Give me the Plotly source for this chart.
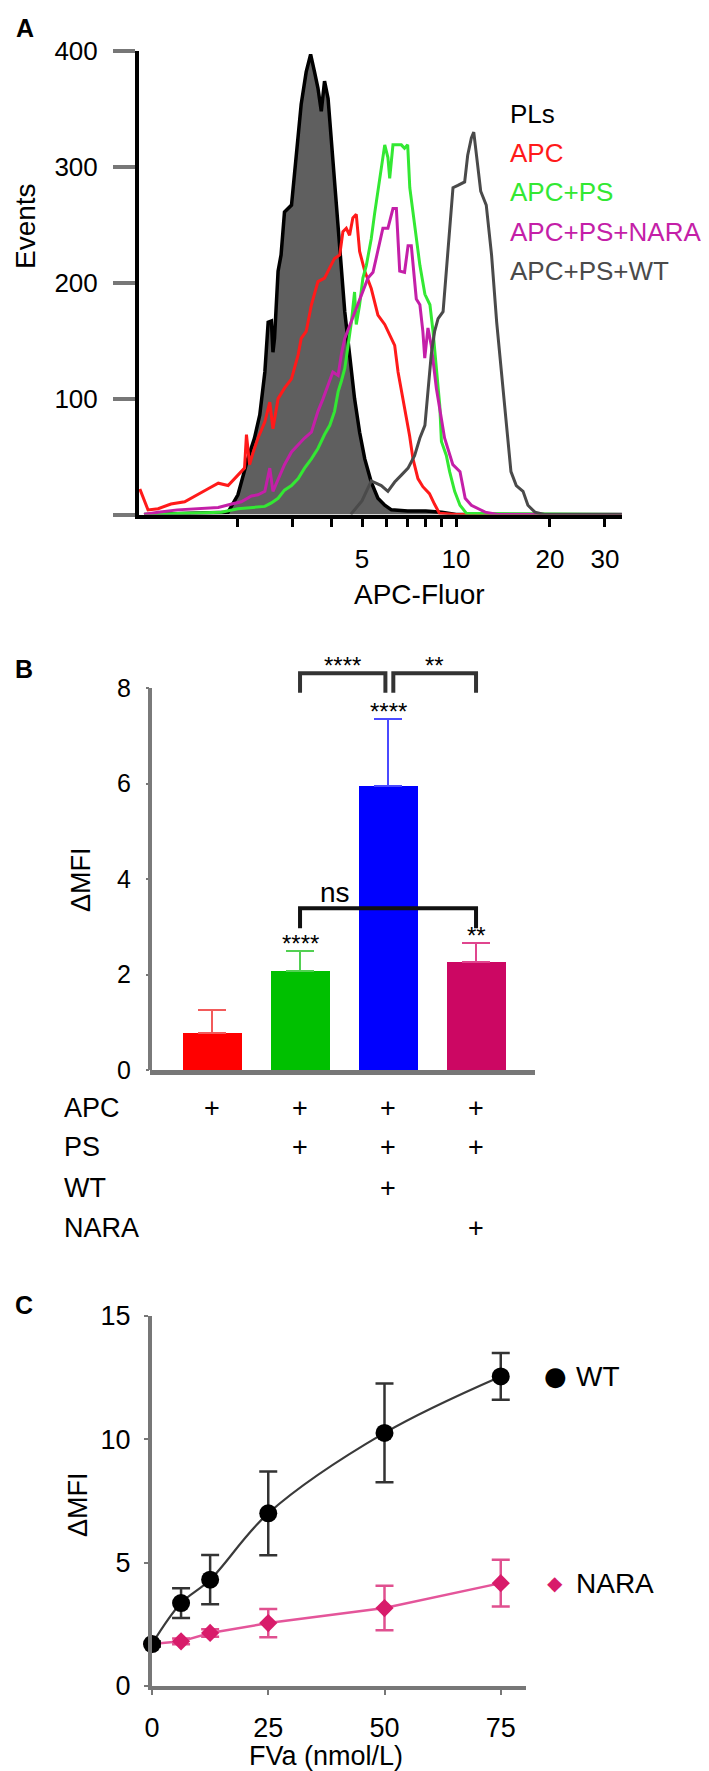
import plotly.graph_objects as go

W, H = 709, 1771
FONT = "Liberation Sans, Arial, sans-serif"

# ---------------- Panel A: flow histograms ----------------
pls_x = [1.0, 1.86, 2.0, 2.15, 2.26, 2.35, 2.44, 2.50, 2.56, 2.59, 2.62, 2.69, 2.75, 2.82, 2.97,
         3.04, 3.12, 3.19, 3.31, 3.42, 3.52, 3.61, 3.70, 3.79, 3.89, 3.98, 4.08, 4.19, 4.29, 4.40,
         4.56, 4.73, 4.91, 5.10, 5.35, 5.62, 5.91, 6.21, 7.0, 8.0, 9.0, 10.0, 34.0]
pls_y = [0, 2, 17, 48, 66, 86, 123, 166, 167, 140, 152, 210, 224, 261, 267,
         296, 325, 354, 382, 397, 382, 368, 348, 374, 359, 325, 290, 253, 210, 175,
         138, 100, 71, 48, 28, 14, 8, 4, 3, 3, 2, 0, 0]

apc_x = [0.97, 1.03, 1.11, 1.22, 1.35, 1.49, 1.60, 1.73, 1.86, 2.00, 2.10, 2.13, 2.18, 2.24, 2.32,
         2.44, 2.53, 2.59, 2.69, 2.82, 2.97, 3.12, 3.19, 3.31, 3.44, 3.61, 3.79, 3.94, 4.08, 4.24,
         4.34, 4.45, 4.56, 4.67, 4.79, 4.91, 5.10, 5.35, 5.62, 5.91, 6.13, 6.36, 6.52, 6.84, 7.10,
         7.28, 7.55, 7.83, 8.22, 8.53, 8.85, 10.0, 34.0]
apc_y = [22, 4, 5, 9, 11, 17, 22, 27, 25, 34, 40, 69, 43, 54, 66,
         80, 97, 74, 100, 109, 117, 138, 152, 158, 181, 201, 204, 213, 221, 224,
         244, 247, 241, 256, 259, 227, 210, 195, 172, 164, 155, 146, 123, 94, 68,
         48, 31, 24, 18, 9, 1, 0, 0]

ps_x = [1.0, 1.77, 2.00, 2.26, 2.44, 2.56, 2.69, 2.82, 2.97, 3.12, 3.27, 3.44, 3.61, 3.79, 3.94,
        4.08, 4.19, 4.29, 4.40, 4.51, 4.62, 4.73, 4.79, 4.91, 5.03, 5.16, 5.35, 5.48, 5.62, 5.76,
        5.91, 6.05, 6.13, 6.28, 6.68, 6.84, 7.0, 7.11, 7.37, 7.66, 7.95, 8.25, 8.44, 8.65, 8.87,
        8.98, 9.31, 9.54, 9.90, 10.3, 10.8, 34.0]
ps_y = [0, 2, 5, 6, 7, 10, 14, 21, 25, 31, 40, 48, 57, 69, 77,
        89, 106, 115, 126, 146, 166, 192, 164, 181, 204, 215, 238, 259, 279, 302,
        319, 308, 290, 319, 319, 316, 319, 282, 250, 215, 190, 181, 158, 123, 94,
        63, 51, 37, 20, 8, 1, 0]

nara_x = [1.0, 1.11, 1.28, 1.49, 1.73, 1.91, 2.05, 2.21, 2.32, 2.44, 2.53, 2.59, 2.69, 2.82, 2.97,
          3.12, 3.27, 3.44, 3.61, 3.75, 3.89, 4.03, 4.19, 4.29, 4.40, 4.56, 4.73, 4.91, 5.10, 5.22,
          5.42, 5.62, 5.83, 6.05, 6.28, 6.44, 6.60, 6.84, 7.02, 7.19, 7.46, 7.66, 7.83, 7.94, 8.13,
          8.33, 8.65, 9.19, 9.77, 10.3, 10.7, 11.2, 12.4, 13.6, 34.0]
nara_y = [0, 2, 4, 5, 6, 9, 11, 16, 17, 20, 40, 20, 31, 43, 54,
          60, 66, 71, 89, 100, 111, 123, 120, 138, 152, 163, 175, 186, 198, 204,
          209, 227, 247, 247, 264, 264, 210, 209, 232, 232, 186, 181, 158, 135, 161,
          146, 109, 66, 43, 37, 14, 8, 2, 0, 0]

wt_x = [4.6, 5.0, 5.35, 5.76, 6.05, 6.36, 6.68, 7.02, 7.37, 7.66, 7.95, 8.13, 8.33, 8.54, 8.76,
        9.09, 9.31, 9.54, 9.78, 10.14, 10.66, 10.9, 11.2, 11.4, 11.75, 12.0, 12.5, 13.0, 13.5, 14.0,
        14.5, 15.0, 15.6, 16.4, 17.0, 17.9, 19.2, 34.0]
wt_y = [0, 12, 29, 25, 20, 28, 34, 40, 51, 66, 77, 109, 138, 158, 169,
        175, 209, 250, 282, 284, 287, 310, 325, 330, 301, 279, 267, 224, 166, 123,
        80, 37, 25, 20, 8, 2, 0, 0]

hist_names = ["PLs", "APC", "APC+PS", "APC+PS+NARA", "APC+PS+WT"]
hist_colors = ["#000000", "#ff1a1a", "#33e833", "#c41fa8", "#4a4a4a"]

# ---------------- Panel B: bar chart ----------------
b_vals = [0.77, 2.07, 5.95, 2.26]
b_errs = [0.49, 0.42, 1.40, 0.40]
b_colors = ["#ff0000", "#00c000", "#0000ff", "#cc0763"]
b_err_colors = ["#f25a5a", "#52d052", "#4a4aff", "#e0458e"]
b_stars = ["", "****", "****", "**"]
row_names = ["APC", "PS", "WT", "NARA"]
row_marks = [[1, 1, 1, 1], [0, 1, 1, 1], [0, 0, 1, 0], [0, 0, 0, 1]]

# ---------------- Panel C: dose response ----------------
fva = [0, 6.25, 12.5, 25, 50, 75]
wt_mfi = [1.7, 3.36, 4.31, 7.0, 10.26, 12.55]
wt_err = [0.1, 0.6, 1.0, 1.7, 2.0, 0.95]
nara_mfi = [1.7, 1.81, 2.15, 2.55, 3.16, 4.17]
nara_err = [0.1, 0.12, 0.15, 0.57, 0.9, 0.95]


def px(x):
    return x / W


def py(y):
    return 1 - y / H


def label(text, x, y, size=27, color="black", xanchor="center", angle=0, family=FONT):
    return dict(text=text, x=px(x), y=py(y), xref="paper", yref="paper", showarrow=False,
                xanchor=xanchor, yanchor="middle", textangle=angle,
                font=dict(size=size, color=color, family=family))


fig = go.Figure()

# panel A traces
hist_x = [pls_x, apc_x, ps_x, nara_x, wt_x]
hist_y = [pls_y, apc_y, ps_y, nara_y, wt_y]
for i, name in enumerate(hist_names):
    if i == 0:
        fig.add_trace(go.Scatter(x=hist_x[i], y=hist_y[i], mode="lines", name=name,
                                 line=dict(color="#000000", width=3.5), fill="tozeroy",
                                 fillcolor="#5f5f5f", xaxis="x", yaxis="y"))
    else:
        fig.add_trace(go.Scatter(x=hist_x[i], y=hist_y[i], mode="lines", name=name,
                                 line=dict(color=hist_colors[i], width=3),
                                 xaxis="x", yaxis="y"))

# panel B bars
for i in range(len(b_vals)):
    fig.add_trace(go.Bar(x=[i], y=[b_vals[i]], width=0.67, marker_color=b_colors[i],
                         marker_line_width=0,
                         error_y=dict(type="data", array=[b_errs[i]], arrayminus=[0],
                                      symmetric=False, color=b_err_colors[i],
                                      thickness=2.5, width=14),
                         xaxis="x2", yaxis="y2"))

# panel C lines
fig.add_trace(go.Scatter(x=fva, y=nara_mfi, mode="lines+markers", name="NARA",
                         line=dict(color="#e4559a", width=2.5),
                         marker=dict(symbol="diamond", size=14, color="#d81b6a"),
                         error_y=dict(type="data", array=nara_err, color="#e0508f",
                                      thickness=2.5, width=9),
                         cliponaxis=False, xaxis="x3", yaxis="y3"))
fig.add_trace(go.Scatter(x=fva, y=wt_mfi, mode="lines+markers", name="WT",
                         line=dict(color="#3a3a3a", width=2.2, shape="spline"),
                         marker=dict(symbol="circle", size=18, color="#000000"),
                         error_y=dict(type="data", array=wt_err, color="#333333",
                                      thickness=2.5, width=9),
                         cliponaxis=False, xaxis="x3", yaxis="y3"))

ann = []

# panel letters
for letter, (lx, ly) in zip(["A", "B", "C"], [(17, 20), (16, 661), (16, 1297)]):
    ann.append(label("<b>%s</b>" % letter, lx, ly, size=25))

# panel A legend
legend_rows = [106, 145, 184, 224, 263]
for name, col, ry in zip(hist_names, hist_colors, legend_rows):
    ann.append(label(name, 500, ry, size=26, color=col, xanchor="left"))

# axis titles
ann.append(label("Events", 17, 218, size=28, angle=-90))
ann.append(label("APC-Fluor", 411, 586, size=28))
ann.append(label("ΔMFI", 73, 872, angle=-90))
ann.append(label("ΔMFI", 70, 1497, angle=-90))
ann.append(label("FVa (nmol/L)", 318, 1748, size=27))

# panel B stars above error bars
for i, s in enumerate(b_stars):
    if s:
        ann.append(dict(text=s, x=i, y=b_vals[i] + b_errs[i], xref="x2", yref="y2",
                        xanchor="center", yanchor="bottom", yshift=-8, showarrow=False,
                        font=dict(size=24, color="black", family=FONT)))

# panel B significance brackets
brackets = [(1, 3, 3.39, 2.97, "ns", "#111111"),
            (1, 1.97, 8.31, 7.9, "****", "#333333"),
            (2.06, 3, 8.31, 7.9, "**", "#333333")]
shapes = []
for x0, x1, top, leg, lab, col in brackets:
    shapes.append(dict(type="path", xref="x2", yref="y2",
                       path="M %s,%s L %s,%s L %s,%s L %s,%s" % (x0, leg, x0, top, x1, top, x1, leg),
                       line=dict(color=col, width=4)))
    if lab == "ns":
        ann.append(dict(text=lab, x=x0 + 0.4, y=top, xref="x2", yref="y2",
                        xanchor="center", yanchor="bottom", yshift=-2, showarrow=False,
                        font=dict(size=28, color="black", family=FONT)))
    else:
        ann.append(dict(text=lab, x=(x0 + x1) / 2, y=top, xref="x2", yref="y2",
                        xanchor="center", yanchor="bottom", yshift=-8, showarrow=False,
                        font=dict(size=24, color="black", family=FONT)))

# panel B y-axis line only up to 8
shapes.append(dict(type="line", xref="x2 domain", yref="y2", x0=0, x1=0, y0=0, y1=8,
                   line=dict(color="#7a7a7a", width=4)))

# panel B condition table
row_y = [1100, 1139, 1180, 1220]
for name, marks, ry in zip(row_names, row_marks, row_y):
    ann.append(label(name, 54, ry, xanchor="left"))
    for i, m in enumerate(marks):
        if m:
            ann.append(dict(text="+", x=i, y=py(ry), xref="x2", yref="paper", showarrow=False,
                            xanchor="center", yanchor="middle",
                            font=dict(size=27, color="black", family=FONT)))

# panel C legend (placed at the last data value of each series)
for glyph, gsize, gcol, name, yv in [("●", 26, "black", "WT", wt_mfi[-1]),
                                      ("◆", 20, "#d81b6a", "NARA", nara_mfi[-1])]:
    ann.append(dict(text=glyph, x=px(547), y=yv, xref="paper", yref="y3", showarrow=False,
                    xanchor="center", yanchor="middle",
                    font=dict(size=gsize, color=gcol, family="DejaVu Sans")))
    ann.append(dict(text=name, x=px(566), y=yv, xref="paper", yref="y3", showarrow=False,
                    xanchor="left", yanchor="middle",
                    font=dict(size=28, color="black", family=FONT)))

tick_font = dict(size=26, color="black", family=FONT)

fig.update_layout(
    width=W, height=H, margin=dict(l=0, r=0, t=0, b=0, pad=0, autoexpand=False),
    paper_bgcolor="white", plot_bgcolor="white", showlegend=False,
    annotations=ann, shapes=shapes, bargap=0,
    xaxis=dict(domain=[px(131), px(614)], type="log", range=[-0.016, 1.532], anchor="y",
               showline=True, linecolor="black", linewidth=4, showgrid=False, zeroline=False,
               ticks="outside", ticklen=8, tickwidth=3, tickcolor="black",
               tickvals=[2, 3, 4, 5, 6, 7, 8, 9, 10, 20, 30],
               ticktext=["", "", "", "5", "", "", "", "", "10", "20", "30"],
               tickfont=tick_font, ticklabelstandoff=10, automargin=False),
    yaxis=dict(domain=[py(506.5), py(43)], range=[0, 400], anchor="x",
               showline=True, linecolor="black", linewidth=4, showgrid=False, zeroline=False,
               ticks="outside", ticklen=22, tickwidth=4, tickcolor="#777777",
               tickvals=[0, 100, 200, 300, 400], ticktext=["", "100", "200", "300", "400"],
               tickfont=tick_font, ticklabelstandoff=10, automargin=False),
    xaxis2=dict(domain=[px(142), px(527)], range=[-0.705, 3.67], anchor="y2",
                showline=True, linecolor="#777777", linewidth=5, showgrid=False, zeroline=False,
                showticklabels=False, ticks="", automargin=False),
    yaxis2=dict(domain=[py(1062), py(651.35)], range=[0, 8.6], anchor="x2",
                showline=False, showgrid=False, zeroline=False,
                ticks="outside", ticklen=3, tickwidth=2, tickcolor="#777777",
                tickvals=[0, 2, 4, 6, 8], tickfont=dict(size=25, color="black", family=FONT),
                ticklabelstandoff=10, automargin=False),
    xaxis3=dict(domain=[px(144), px(518)], range=[0, 80.43], anchor="y3",
                showline=True, linecolor="#777777", linewidth=4, showgrid=False, zeroline=False,
                ticks="outside", ticklen=5, tickwidth=2, tickcolor="#777777",
                tickvals=[0, 25, 50, 75], tickfont=dict(size=27, color="black", family=FONT),
                ticklabelstandoff=10, automargin=False),
    yaxis3=dict(domain=[py(1678), py(1308)], range=[0, 15], anchor="x3",
                showline=True, linecolor="#777777", linewidth=4, showgrid=False, zeroline=False,
                ticks="outside", ticklen=4, tickwidth=2, tickcolor="#777777",
                tickvals=[0, 5, 10, 15], tickfont=dict(size=27, color="black", family=FONT),
                ticklabelstandoff=8, automargin=False),
)

fig.write_html("out.html")
